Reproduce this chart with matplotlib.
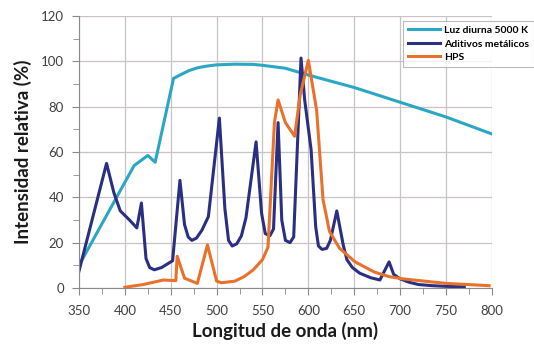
import matplotlib
matplotlib.use("Agg")
import matplotlib.pyplot as plt
from matplotlib.ticker import MultipleLocator

# Luz diurna 5000 K
day_wl = [350, 410, 425, 433, 453, 460, 470, 480, 490, 500, 520, 540, 550,
          575, 600, 650, 700, 750, 800]
day_val = [10, 54, 58.5, 55.5, 92.5, 94, 96, 97.3, 98, 98.5, 98.8, 98.7, 98.3,
           97, 94, 88.5, 82, 75.5, 68]

# Aditivos metalicos
mh_wl = [350, 380, 388, 395, 405, 413, 418, 423, 427, 432, 440, 452, 460,
         465, 469, 473, 478, 484, 491, 503, 509, 513, 517, 522, 527, 532,
         543, 549, 553, 558, 562, 567, 571, 575, 580, 584, 592, 596, 603,
         608, 611, 615, 620, 624, 631, 638, 642, 648, 656, 668, 678, 688,
         693, 700, 710, 720, 735, 750, 770]
mh_val = [7.5, 55, 42, 34, 30, 26.5, 37.5, 13, 9, 8, 9, 12, 47.5,
          28, 22.5, 21, 22, 25.5, 31.5, 75, 35, 21, 18.5, 19.5, 23, 31,
          64.5, 33, 24, 23, 26, 73, 30, 21, 20, 22.5, 101.5, 83, 61,
          27, 18.5, 17, 17.5, 21, 34, 19, 12.5, 9, 6.5, 4.5, 3.5, 11.5,
          6, 4, 2.5, 1.5, 1, 0.7, 0.5]

# HPS
hps_wl = [400, 420, 442, 455.5, 457, 465, 479, 490, 500, 505, 510, 520, 530,
          540, 550, 556, 563, 567, 575, 585, 591, 600, 609, 616, 623, 634,
          651, 672, 688, 703, 750, 797]
hps_val = [0.3, 1.5, 3.5, 3.2, 14, 4.3, 2, 19, 3, 2.3, 2.5, 3, 5,
           8, 12.5, 18, 73, 83, 73, 67, 85, 100.5, 78.5, 39, 25, 17.5,
           11.5, 7, 5, 4, 2, 1]

fig = plt.figure(figsize=(5.34, 3.44), dpi=100)
ax = fig.add_axes([0.148, 0.163, 0.773, 0.790])

ax.plot(day_wl, day_val, color="#2BA7C6", lw=2.2, label="Luz diurna 5000 K")
ax.plot(mh_wl, mh_val, color="#2A2F82", lw=2.2, label="Aditivos metálicos")
ax.plot(hps_wl, hps_val, color="#E8722C", lw=2.2, label="HPS")

ax.set_xlim(350, 800)
ax.set_ylim(0, 120)
ax.xaxis.set_major_locator(MultipleLocator(50))
ax.xaxis.set_minor_locator(MultipleLocator(25))
ax.yaxis.set_major_locator(MultipleLocator(20))
ax.yaxis.set_minor_locator(MultipleLocator(10))
ax.grid(True, which="major", color="#CBC3C3", lw=0.9)
ax.set_axisbelow(True)
for side in ["top", "right"]:
    ax.spines[side].set_visible(False)
for side in ["left", "bottom"]:
    ax.spines[side].set_color("#8A8A8A")
ax.tick_params(which="both", colors="#8A8A8A", labelcolor="#404040",
               labelsize=9.5, direction="out")
ax.tick_params(which="major", length=5)
ax.tick_params(which="minor", length=4)
ax.tick_params(axis="x", which="major", pad=7)
ax.tick_params(axis="y", which="major", pad=6)
for lab in ax.get_xticklabels() + ax.get_yticklabels():
    lab.set_family("Lato")

ax.set_xlabel("Longitud de onda (nm)", fontsize=13.5, family="Lato",
              fontweight="bold", color="#1a1a1a", labelpad=4)
ax.set_ylabel("Intensidad relativa (%)", fontsize=13.5, family="Lato",
              fontweight="bold", color="#1a1a1a", labelpad=6)

leg = ax.legend(loc="upper left", bbox_to_anchor=(0.755, 0.94),
                bbox_transform=fig.transFigure, frameon=True, fancybox=False,
                prop={"family": "Lato", "weight": "bold", "size": 7.5},
                handlelength=3.0, handletextpad=0.4, labelspacing=0.4,
                borderpad=0.5, borderaxespad=0)
leg.get_frame().set_edgecolor("#AAAAAA")
leg.get_frame().set_linewidth(0.8)

fig.savefig("out.png", dpi=100)
